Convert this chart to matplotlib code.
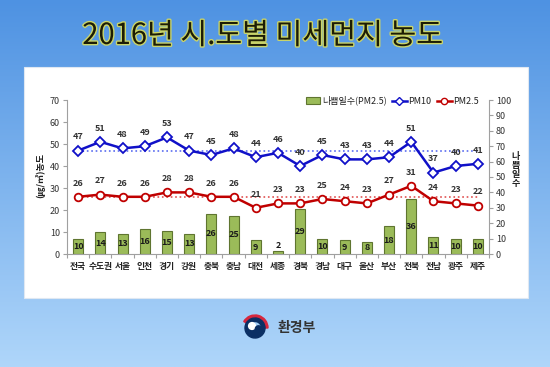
import numpy as np
import matplotlib
matplotlib.use("Agg")
import matplotlib.pyplot as plt
import matplotlib.patheffects as pe
from matplotlib.patches import Rectangle, Circle, Wedge
from matplotlib.lines import Line2D

plt.rcParams['font.family'] = ['Noto Sans CJK KR', 'DejaVu Sans']

regions = ["전국", "수도권", "서울", "인천", "경기", "강원", "충북", "충남", "대전", "세종",
           "경북", "경남", "대구", "울산", "부산", "전북", "전남", "광주", "제주"]
pm10 = [47, 51, 48, 49, 53, 47, 45, 48, 44, 46, 40, 45, 43, 43, 44, 51, 37, 40, 41]
pm25 = [26, 27, 26, 26, 28, 28, 26, 26, 21, 23, 23, 25, 24, 23, 27, 31, 24, 23, 22]
bad_days = [10, 14, 13, 16, 15, 13, 26, 25, 9, 2, 29, 10, 9, 8, 18, 36, 11, 10, 10]
pm10_avg = 47
pm25_avg = 26

title = "2016년 시.도별 미세먼지 농도"

W, H = 550, 367
fig = plt.figure(figsize=(W / 100, H / 100), dpi=100)

# background gradient
bg = fig.add_axes([0, 0, 1, 1])
bg.set_axis_off()
grad = np.linspace(0, 1, 256).reshape(-1, 1)
top = np.array([78, 146, 226]) / 255
bot = np.array([175, 214, 250]) / 255
img = top + (bot - top) * grad[..., None]
img = np.repeat(img, 2, axis=1)
bg.imshow(img, aspect='auto', extent=[0, 1, 0, 1], origin='upper')
bg.set_xlim(0, 1)
bg.set_ylim(0, 1)

# white panel
bg.add_patch(Rectangle((24 / W, 1 - 298 / H), 504 / W, 231 / H, facecolor='white',
                       edgecolor='#dfe8f2', lw=0.8, zorder=2))

# title
fig.text(0.478, 1 - 36 / H, title, ha='center', va='center', fontsize=21,
         color='#1c1c05',
         path_effects=[pe.withStroke(linewidth=2.0, foreground='#c9d46a')])

pos = [67 / W, 1 - 254 / H, (489 - 67) / W, (254 - 100) / H]
n = len(regions)
x = np.arange(n) + 0.5

# bars on right axis
axb = fig.add_axes(pos)
axb.set_xlim(0, n)
axb.set_ylim(0, 100)
axb.bar(x, bad_days, width=0.45, color='#9bbb59', edgecolor='#5f7530', linewidth=0.8,
        zorder=2)
for xi, v in zip(x, bad_days):
    if v >= 5:
        axb.text(xi, v / 2, str(v), ha='center', va='center', fontsize=6.5,
                 fontweight='bold', color='#1a1a1a', zorder=3)
    else:
        axb.text(xi, v + 0.5, str(v), ha='center', va='bottom', fontsize=6.5,
                 fontweight='bold', color='#1a1a1a', zorder=3)
axb.yaxis.tick_right()
axb.set_yticks(np.arange(0, 101, 10))
for s in ['top', 'left']:
    axb.spines[s].set_visible(False)
axb.spines['right'].set_color('#a0a0a0')
axb.spines['bottom'].set_color('#a0a0a0')
axb.tick_params(axis='y', colors='#a0a0a0', labelcolor='#333333', labelsize=6.5, length=3,
                pad=2)
axb.set_xticks(np.arange(0, n + 1), minor=False)
axb.set_xticklabels([])
axb.set_xticks(x, minor=True)
axb.set_xticklabels(regions, minor=True)
axb.tick_params(axis='x', which='major', length=3, color='#a0a0a0')
axb.tick_params(axis='x', which='minor', length=0, labelsize=6.3, labelcolor='#222222', pad=6)
for lab in axb.get_xticklabels(minor=True):
    lab.set_fontweight('bold')
axb.patch.set_alpha(0)

# lines on left axis
axl = fig.add_axes(pos, sharex=axb)
axl.patch.set_alpha(0)
axl.set_ylim(0, 70)
axl.set_yticks(np.arange(0, 71, 10))
for s in ['top', 'right', 'bottom']:
    axl.spines[s].set_visible(False)
axl.spines['left'].set_color('#a0a0a0')
axl.tick_params(axis='y', colors='#a0a0a0', labelcolor='#333333', labelsize=6.5, length=3,
                pad=2)
axl.tick_params(axis='x', which='both', length=0, labelbottom=False)

axl.plot([x[0], x[-1]], [pm10_avg, pm10_avg], ls=':', color='#5a6cf0', lw=1.2, zorder=2)
axl.plot([x[0], x[-1]], [pm25_avg, pm25_avg], ls=':', color='#e05050', lw=1.2, zorder=2)

axl.plot(x, pm10, color='#1010c8', lw=1.8, marker='D', ms=5, mfc='white', mec='#1010c8',
         mew=1.3, zorder=4)
axl.plot(x, pm25, color='#c00000', lw=1.8, marker='o', ms=5.5, mfc='white', mec='#c00000',
         mew=1.3, zorder=4)
for xi, v in zip(x, pm10):
    axl.text(xi, v + 4.2, str(v), ha='center', va='bottom', fontsize=6.5, color='#333333',
             fontweight='bold')
for xi, v in zip(x, pm25):
    axl.text(xi, v + 4.2, str(v), ha='center', va='bottom', fontsize=6.5, color='#333333',
             fontweight='bold')

handles = [Rectangle((0, 0), 1, 1, facecolor='#9bbb59', edgecolor='#5f7530', lw=0.8),
           Line2D([], [], color='#1010c8', lw=1.8, marker='D', ms=4, mfc='white', mec='#1010c8'),
           Line2D([], [], color='#c00000', lw=1.8, marker='o', ms=4.5, mfc='white', mec='#c00000')]
labels = ["나쁨일수(PM2.5)", "PM10", "PM2.5"]
leg = axl.legend(handles, labels, loc='upper right', bbox_to_anchor=(0.985, 1.05), ncol=3,
                 frameon=False, fontsize=6.5, handlelength=1.6, handletextpad=0.2,
                 columnspacing=0.6, borderaxespad=0)
for t in leg.get_texts():
    t.set_color('#222222')

fig.text(40 / W, 1 - 175 / H, "(㎍/㎥)농도", rotation=90, ha='center', va='center',
         fontsize=6.5, fontweight='bold', color='#222222')
fig.text(516 / W, 1 - 170 / H, "나\n쁨\n일\n수", ha='center', va='center', fontsize=6.5,
         fontweight='bold', color='#222222', linespacing=1.0)

# logo
lg = fig.add_axes([(255 - 16) / W, 1 - (328 + 16) / H, 32 / W, 32 / H])
lg.set_xlim(-16, 16)
lg.set_ylim(-16, 16)
lg.set_aspect('equal')
lg.set_axis_off()
lg.add_patch(Wedge((0, 0), 13, 0, 150, width=2.6, color='#d7263d'))
lg.add_patch(Wedge((0, 0), 10, 150, 360, color='#0b2f64'))
lg.add_patch(Wedge((0, 0), 10, 0, 150, width=3.5, color='#0b2f64'))
lg.add_patch(Circle((-3.0, 2.0), 3.4, color='white'))
lg.add_patch(Circle((3.5, -1.0), 3.2, color='#0b2f64'))
fig.text(278 / W, 1 - 328 / H, "환경부", ha='left', va='center', fontsize=10,
         color='#333333', fontweight='bold')

fig.savefig("out.png", dpi=100)
